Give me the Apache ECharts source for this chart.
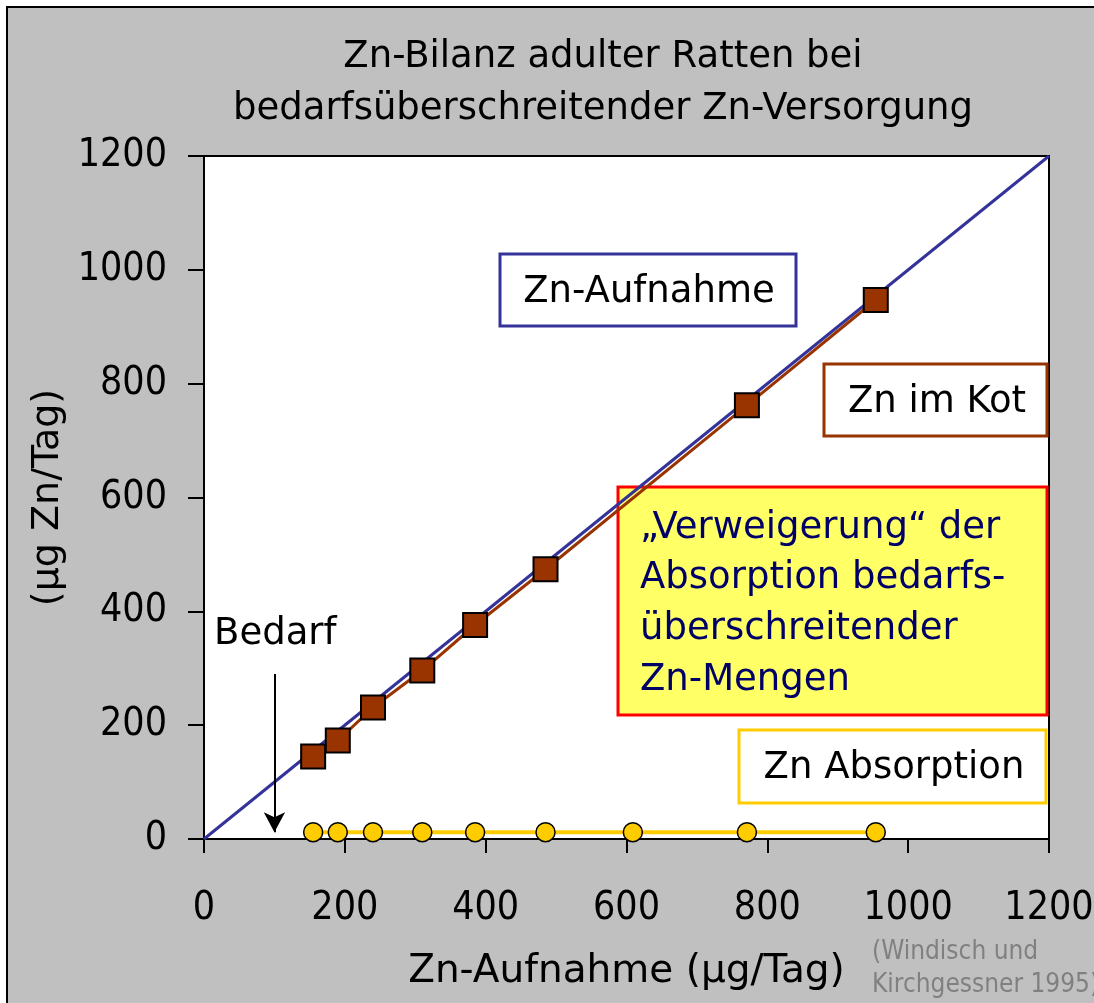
<!DOCTYPE html>
<html>
<head>
<meta charset="utf-8">
<script src="https://cdn.jsdelivr.net/npm/echarts@6/dist/echarts.min.js"></script>
<style>
  html, body { margin: 0; padding: 0; background: #fff; }
  #chart { width: 1094px; height: 1003px; }
</style>
</head>
<body>
<div id="chart"></div>
<script>
// Zn intake line (intake = intake), µg/Tag
const intakeX = [0, 1200];
const intakeY = [0, 1200];

// Zn excreted with faeces vs. Zn intake
const kotX = [155, 190, 240, 310, 385, 485, 771, 954];
const kotY = [145, 173, 231, 296, 376, 474, 762, 947];

// Apparent Zn absorption vs. Zn intake
const absX = [155, 190, 240, 310, 385, 485, 609, 771, 954];
const absY = [12, 12, 12, 12, 12, 12, 12, 12, 12];

// Requirement marker (Bedarf) on the intake axis
const bedarfX = 100;
const bedarfFrom = 290;
const bedarfTo = 12;

const axisTicks = [0, 200, 400, 600, 800, 1000, 1200];

const FONT = 'DejaVu Sans';
const FONT_C = 'DejaVu Sans Condensed';

const zip = (xs, ys) => xs.map((x, i) => [x, ys[i]]);
const plain = v => String(v);

const chart = echarts.init(document.getElementById('chart'), null, { renderer: 'canvas' });

function box(x, y, w, h, stroke, fill, lines, textColor, align, tx, ty, lh) {
  const children = [{
    type: 'rect',
    shape: { x: x, y: y, width: w, height: h },
    style: { fill: fill, stroke: stroke, lineWidth: 3 }
  }];
  lines.forEach((t, i) => {
    children.push({
      type: 'text',
      x: tx, y: ty + i * lh,
      style: {
        text: t, fill: textColor, font: '37px ' + FONT,
        align: align, verticalAlign: 'middle'
      }
    });
  });
  return { type: 'group', z: 100, children: children };
}

const option = {
  animation: false,
  backgroundColor: '#ffffff',
  title: {
    text: 'Zn-Bilanz adulter Ratten bei\nbedarfsüberschreitender Zn-Versorgung',
    left: 598, top: 26, textAlign: 'center',
    textStyle: { fontFamily: FONT, fontSize: 37, fontWeight: 'normal', color: '#000', lineHeight: 52 }
  },
  grid: {
    left: 204, right: 45, top: 156, bottom: 164,
    containLabel: false, outerBoundsMode: 'none',
    show: true, backgroundColor: '#ffffff', borderColor: '#000', borderWidth: 2
  },
  xAxis: {
    type: 'value', min: axisTicks[0], max: axisTicks[axisTicks.length - 1], interval: 200,
    name: 'Zn-Aufnahme (µg/Tag)', nameLocation: 'middle', nameGap: 113,
    nameTextStyle: { fontFamily: FONT, fontSize: 39, color: '#000' },
    axisLine: { show: true, onZero: false, lineStyle: { color: '#000', width: 2 } },
    axisTick: { show: true, inside: false, length: 14, lineStyle: { color: '#000', width: 2 } },
    axisLabel: { margin: 50, fontFamily: FONT_C, fontSize: 39, color: '#000', formatter: plain,
                 showMaxLabel: true, showMinLabel: true, hideOverlap: false },
    splitLine: { show: false }
  },
  yAxis: {
    type: 'value', min: axisTicks[0], max: axisTicks[axisTicks.length - 1], interval: 200,
    name: '(µg Zn/Tag)', nameLocation: 'middle', nameGap: 129, nameRotate: 90,
    nameTextStyle: { fontFamily: FONT, fontSize: 38, color: '#000' },
    axisLine: { show: true, onZero: false, lineStyle: { color: '#000', width: 2 } },
    axisTick: { show: true, inside: false, length: 16, lineStyle: { color: '#000', width: 2 } },
    axisLabel: { margin: 37, fontFamily: FONT_C, fontSize: 39, color: '#000', formatter: plain },
    splitLine: { show: false }
  },
  series: [
    {
      name: 'Zn-Aufnahme', type: 'line', data: zip(intakeX, intakeY),
      showSymbol: false, symbol: 'none',
      lineStyle: { color: '#333399', width: 3 }, z: 2
    },
    {
      name: 'Zn im Kot', type: 'line', data: zip(kotX, kotY),
      symbol: 'rect', symbolSize: 24,
      itemStyle: { color: '#993300', borderColor: '#000', borderWidth: 2 },
      lineStyle: { color: '#993300', width: 3 }, z: 3
    },
    {
      name: 'Zn Absorption', type: 'line', data: zip(absX, absY),
      symbol: 'circle', symbolSize: 19,
      itemStyle: { color: '#FFCC00', borderColor: '#000', borderWidth: 1.5 },
      lineStyle: { color: '#FFCC00', width: 4 }, z: 4,
      markLine: {
        silent: true, animation: false,
        symbol: ['none', 'arrow'], symbolSize: [16, 20],
        lineStyle: { color: '#000', width: 2, type: 'solid' },
        label: { show: false },
        data: [[{ coord: [bedarfX, bedarfFrom] }, { coord: [bedarfX, bedarfTo] }]]
      }
    }
  ],
  graphic: [
    // grey slide frame
    {
      type: 'rect', z: -100, silent: true,
      shape: { x: 7, y: 7, width: 1200, height: 1100 },
      style: { fill: '#C0C0C0', stroke: '#000', lineWidth: 2 }
    },
    {
      type: 'text', z: 100, x: 214, y: 634,
      style: { text: 'Bedarf', font: '37px ' + FONT, fill: '#000', align: 'left', verticalAlign: 'middle' }
    },
    box(500, 254, 296, 72, '#333399', '#fff', ['Zn-Aufnahme'], '#000', 'center', 649, 292, 0),
    box(824, 364, 223, 72, '#993300', '#fff', ['Zn im Kot'], '#000', 'center', 937, 402, 0),
    box(618, 487, 429, 228, '#FF0000', '#FFFF66',
      ['\u201EVerweigerung\u201C der', 'Absorption bedarfs-', 'überschreitender', 'Zn-Mengen'],
      '#000066', 'left', 640, 528, 50.7),
    box(739, 730, 307, 73, '#FFCC00', '#fff', ['Zn Absorption'], '#000', 'center', 894, 768, 0),
    {
      type: 'text', z: 100, x: 872, y: 952,
      style: { text: '(Windisch und', font: '26px ' + FONT_C, fill: '#808080', align: 'left', verticalAlign: 'middle' }
    },
    {
      type: 'text', z: 100, x: 872, y: 985,
      style: { text: 'Kirchgessner 1995)', font: '26px ' + FONT_C, fill: '#808080', align: 'left', verticalAlign: 'middle' }
    }
  ]
};

chart.setOption(option);
</script>
</body>
</html>
